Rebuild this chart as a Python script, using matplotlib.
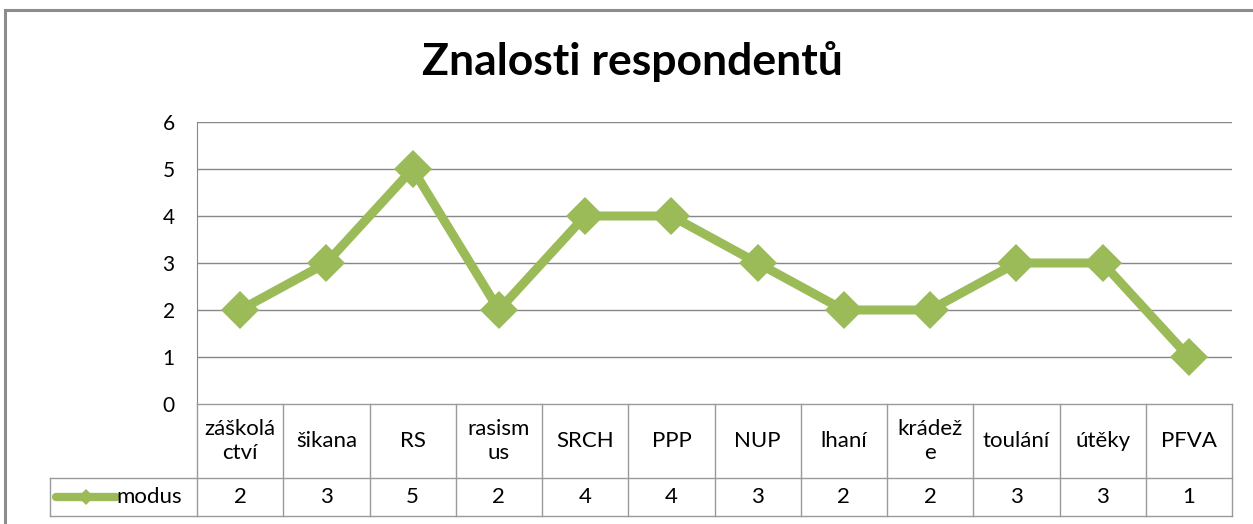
import matplotlib.pyplot as plt
from matplotlib.lines import Line2D

plt.rcParams['font.family'] = ['Lato', 'DejaVu Sans']

# data
categories = ['záškolá\nctví', 'šikana', 'RS', 'rasism\nus', 'SRCH', 'PPP', 'NUP',
              'lhaní', 'krádež\ne', 'toulání', 'útěky', 'PFVA']
modus = [2, 3, 5, 2, 4, 4, 3, 2, 2, 3, 3, 1]
series_name = 'modus'
title = 'Znalosti respondentů'

green = '#9BBB59'
grid = '#878787'
W, H = 1253, 524

fig = plt.figure(figsize=(W / 100, H / 100), dpi=100)

def fx(px):
    return px / W

def fy(py):
    return 1 - py / H

# outer chart border (top & left only visible)
fig.add_artist(Line2D([fx(5), 1], [fy(10), fy(10)], color='#8c8c8c', lw=2.2))
fig.add_artist(Line2D([fx(5), fx(5)], [fy(10), 0], color='#8c8c8c', lw=2.2))

fig.text(fx(632), fy(62), title, ha='center', va='center', fontsize=32, fontweight='bold')

# main plot
left, right, top, bottom = 197, 1232, 122, 404
ax = fig.add_axes([fx(left), fy(bottom), fx(right - left), fy(top) - fy(bottom)])
n = len(categories)
xs = [i + 0.5 for i in range(n)]
ax.set_xlim(0, n)
ax.set_ylim(0, 6)
for y in range(1, 7):
    ax.axhline(y, color=grid, lw=1.0, zorder=1)
ax.plot(xs, modus, color=green, lw=6.5, marker='D', markersize=19,
        markeredgewidth=0, zorder=3, solid_joinstyle='miter')
for s in ['top', 'right', 'bottom']:
    ax.spines[s].set_visible(False)
ax.spines['left'].set_color(grid)
ax.set_xticks([])
ax.set_yticks(range(0, 7))
ax.tick_params(axis='y', length=0, labelsize=15, pad=16)

# data table below
tleft, tbottom = 50, 516
tax = fig.add_axes([fx(tleft), fy(tbottom), fx(right - tleft), fy(bottom) - fy(tbottom)])
unit = (right - left) / n
x0 = -(left - tleft) / unit
tax.set_xlim(x0, n)
# rows: header 404-478, values 478-516
row_split = (tbottom - 478) / (tbottom - bottom)
tax.set_ylim(0, 1)
tax.axis('off')
lc = '#9a9a9a'
kw = dict(color=lc, lw=1.0, clip_on=False)
for i in range(n + 1):
    tax.plot([i, i], [0, 1], **kw)
tax.plot([x0, x0], [0, row_split], **kw)
tax.plot([x0, n], [row_split, row_split], **kw)
tax.plot([x0, n], [0, 0], **kw)
tax.plot([0, n], [1, 1], **kw)
for i, (c, v) in enumerate(zip(categories, modus)):
    tax.text(i + 0.5, (1 + row_split) / 2, c, ha='center', va='center',
             fontsize=16, linespacing=1.3)
    tax.text(i + 0.5, row_split / 2, str(v), ha='center', va='center', fontsize=16)
# legend key in table
tax.plot([x0 + 0.07, x0 + 0.76], [row_split / 2] * 2, color=green, lw=6,
         solid_capstyle='round', clip_on=False)
tax.plot([x0 + 0.42], [row_split / 2], color=green, marker='D', markersize=8,
         markeredgewidth=0, clip_on=False)
tax.text(x0 + 0.77, row_split / 2, series_name, ha='left', va='center', fontsize=16)

fig.savefig('out.png', dpi=100)
